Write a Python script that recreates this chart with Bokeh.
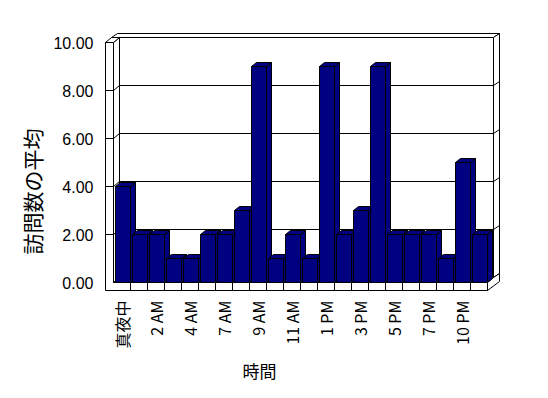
import math
from bokeh.plotting import figure
from bokeh.models import Range1d, FixedTicker, NumeralTickFormatter, Title
from bokeh.embed import file_html
from bokeh.resources import INLINE

# ---- data ----
hours = ["真夜中", "1 AM", "2 AM", "3 AM", "4 AM", "6 AM", "7 AM", "8 AM", "9 AM",
         "10 AM", "11 AM", "正午", "1 PM", "2 PM", "3 PM", "4 PM", "5 PM", "6 PM",
         "7 PM", "8 PM", "10 PM", "11 PM"]
visits = [4, 2, 2, 1, 1, 2, 2, 3, 9, 1, 2, 1, 9, 2, 3, 9, 2, 2, 2, 1, 5, 2]
y_ticks = [0, 2, 4, 6, 8, 10]
y_title = "訪問数の平均"
x_title = "時間"

# ---- layout (pixels) ----
W, H = 548, 398
FL, FR, FT, FB = 100, 510, 28, 295      # plot frame edges
UX, UY = 17.0, 24.0                      # px per category / per unit
X0PX, Y0PX = 121.5, 282.0                # px of first category centre / of zero


def dx(px):
    return px / UX


def dy(px):
    return px / UY


n = len(hours)
top = y_ticks[-1]
a, b = -0.5, n - 0.5
wt, ft = dx(8), dy(8)          # wall / floor thickness
wdx, wdy = dx(6), dy(5)        # wall depth
tdx, tdy = dx(6), dy(4)        # back wall thickness
bdx, bdy = dx(5), dy(4)        # bar depth
gap = dx(2)

p = figure(width=W, height=H,
           x_range=Range1d((FL - X0PX) / UX, (FR - X0PX) / UX),
           y_range=Range1d((Y0PX - FB) / UY, (Y0PX - FT) / UY),
           output_backend="svg", toolbar_location=None,
           min_border_left=FL, min_border_right=W - FR,
           min_border_top=FT, min_border_bottom=H - FB)
p.outline_line_color = None
p.background_fill_color = "white"
p.border_fill_color = "white"
p.xgrid.visible = False
p.ygrid.visible = False

# ---- walls & floor ----
polys = [
    [(a - wt, top), (a, top), (a, 0), (b, 0), (b, -ft), (a - wt, -ft)],
    [(a, top), (a + wdx, top + wdy), (a + wdx, wdy), (a, 0)],
    [(a, 0), (a + wdx, wdy), (b + wdx, wdy), (b, 0)],
    [(a + wdx, wdy), (a + wdx, top + wdy), (b + wdx, top + wdy), (b + wdx, wdy)],
    [(a - wt, top), (a, top), (a + wdx, top + wdy), (a - wt + wdx, top + wdy)],
    [(a - wt + wdx, top + wdy), (a - wt + wdx + tdx, top + wdy + tdy),
     (b + wdx + tdx, top + wdy + tdy), (b + wdx, top + wdy)],
    [(b + wdx, top + wdy), (b + wdx + tdx, top + wdy + tdy),
     (b + wdx + tdx, wdy + tdy), (b + wdx, wdy)],
    [(b, 0), (b + wdx, wdy), (b + wdx + tdx, wdy + tdy),
     (b + wdx + tdx, wdy + tdy - ft), (b, -ft)],
]
p.patches([[pt[0] for pt in pl] for pl in polys],
          [[pt[1] for pt in pl] for pl in polys],
          fill_color="white", line_color="black", line_width=1)

# gridlines
gx, gy = [], []
for v in y_ticks[1:-1]:
    gx.append([a - wt, a, a + wdx, b + wdx, b + wdx + tdx])
    gy.append([v, v, v + wdy, v + wdy, v + wdy + tdy])
p.multi_line(gx, gy, line_color="black", line_width=1)

# floor front dividers
divs = [i - 0.5 for i in range(1, n)]
p.segment(x0=divs, y0=[0] * len(divs), x1=divs, y1=[-ft] * len(divs),
          line_color="black", line_width=1)

# ---- bars (side, top, front for each, left to right) ----
bx, by = [], []
for i, v in enumerate(visits):
    L, R = i - 0.5 + gap, i + 0.5
    side = [(R, v), (R, 0), (R + bdx, bdy), (R + bdx, v + bdy)]
    tp = [(L, v), (R, v), (R + bdx, v + bdy), (L + bdx, v + bdy)]
    front = [(L, 0), (L, v), (R, v), (R, 0)]
    for pl in (side, tp, front):
        bx.append([pt[0] for pt in pl])
        by.append([pt[1] for pt in pl])
p.patches(bx, by, fill_color="#000080", line_color="black", line_width=1)

# ---- axes ----
xa = p.xaxis[0]
xa.ticker = FixedTicker(ticks=list(range(0, n, 2)))
xa.major_label_overrides = {i: hours[i] for i in range(0, n, 2)}
xa.major_label_orientation = math.pi / 2
xa.major_label_standoff = 5
xa.major_label_text_font = "Noto Sans CJK JP"
xa.major_label_text_font_size = "16px"
xa.major_label_text_color = "black"
xa.axis_line_color = None
xa.major_tick_line_color = None
xa.minor_tick_line_color = None
xa.major_tick_out = 0
xa.major_tick_in = 0

ya = p.yaxis[0]
ya.ticker = FixedTicker(ticks=y_ticks)
ya.formatter = NumeralTickFormatter(format="0.00")
ya.major_label_standoff = 7
ya.major_label_text_font = "Liberation Sans"
ya.major_label_text_font_size = "16px"
ya.major_label_text_color = "black"
ya.axis_line_color = None
ya.major_tick_line_color = None
ya.minor_tick_line_color = None
ya.major_tick_out = 0
ya.major_tick_in = 0

# ---- titles ----
p.add_layout(Title(text=y_title, align="left", offset=FB - 254,
                   standoff=8, text_font="Noto Sans CJK JP",
                   text_font_size="21px", text_font_style="normal",
                   text_color="black"), "left")
p.add_layout(Title(text=x_title, align="left", offset=242 - FL,
                   standoff=8, text_font="Noto Sans CJK JP",
                   text_font_size="17px", text_font_style="normal",
                   text_color="black"), "below")

open("out.html", "w").write(file_html(p, INLINE))
